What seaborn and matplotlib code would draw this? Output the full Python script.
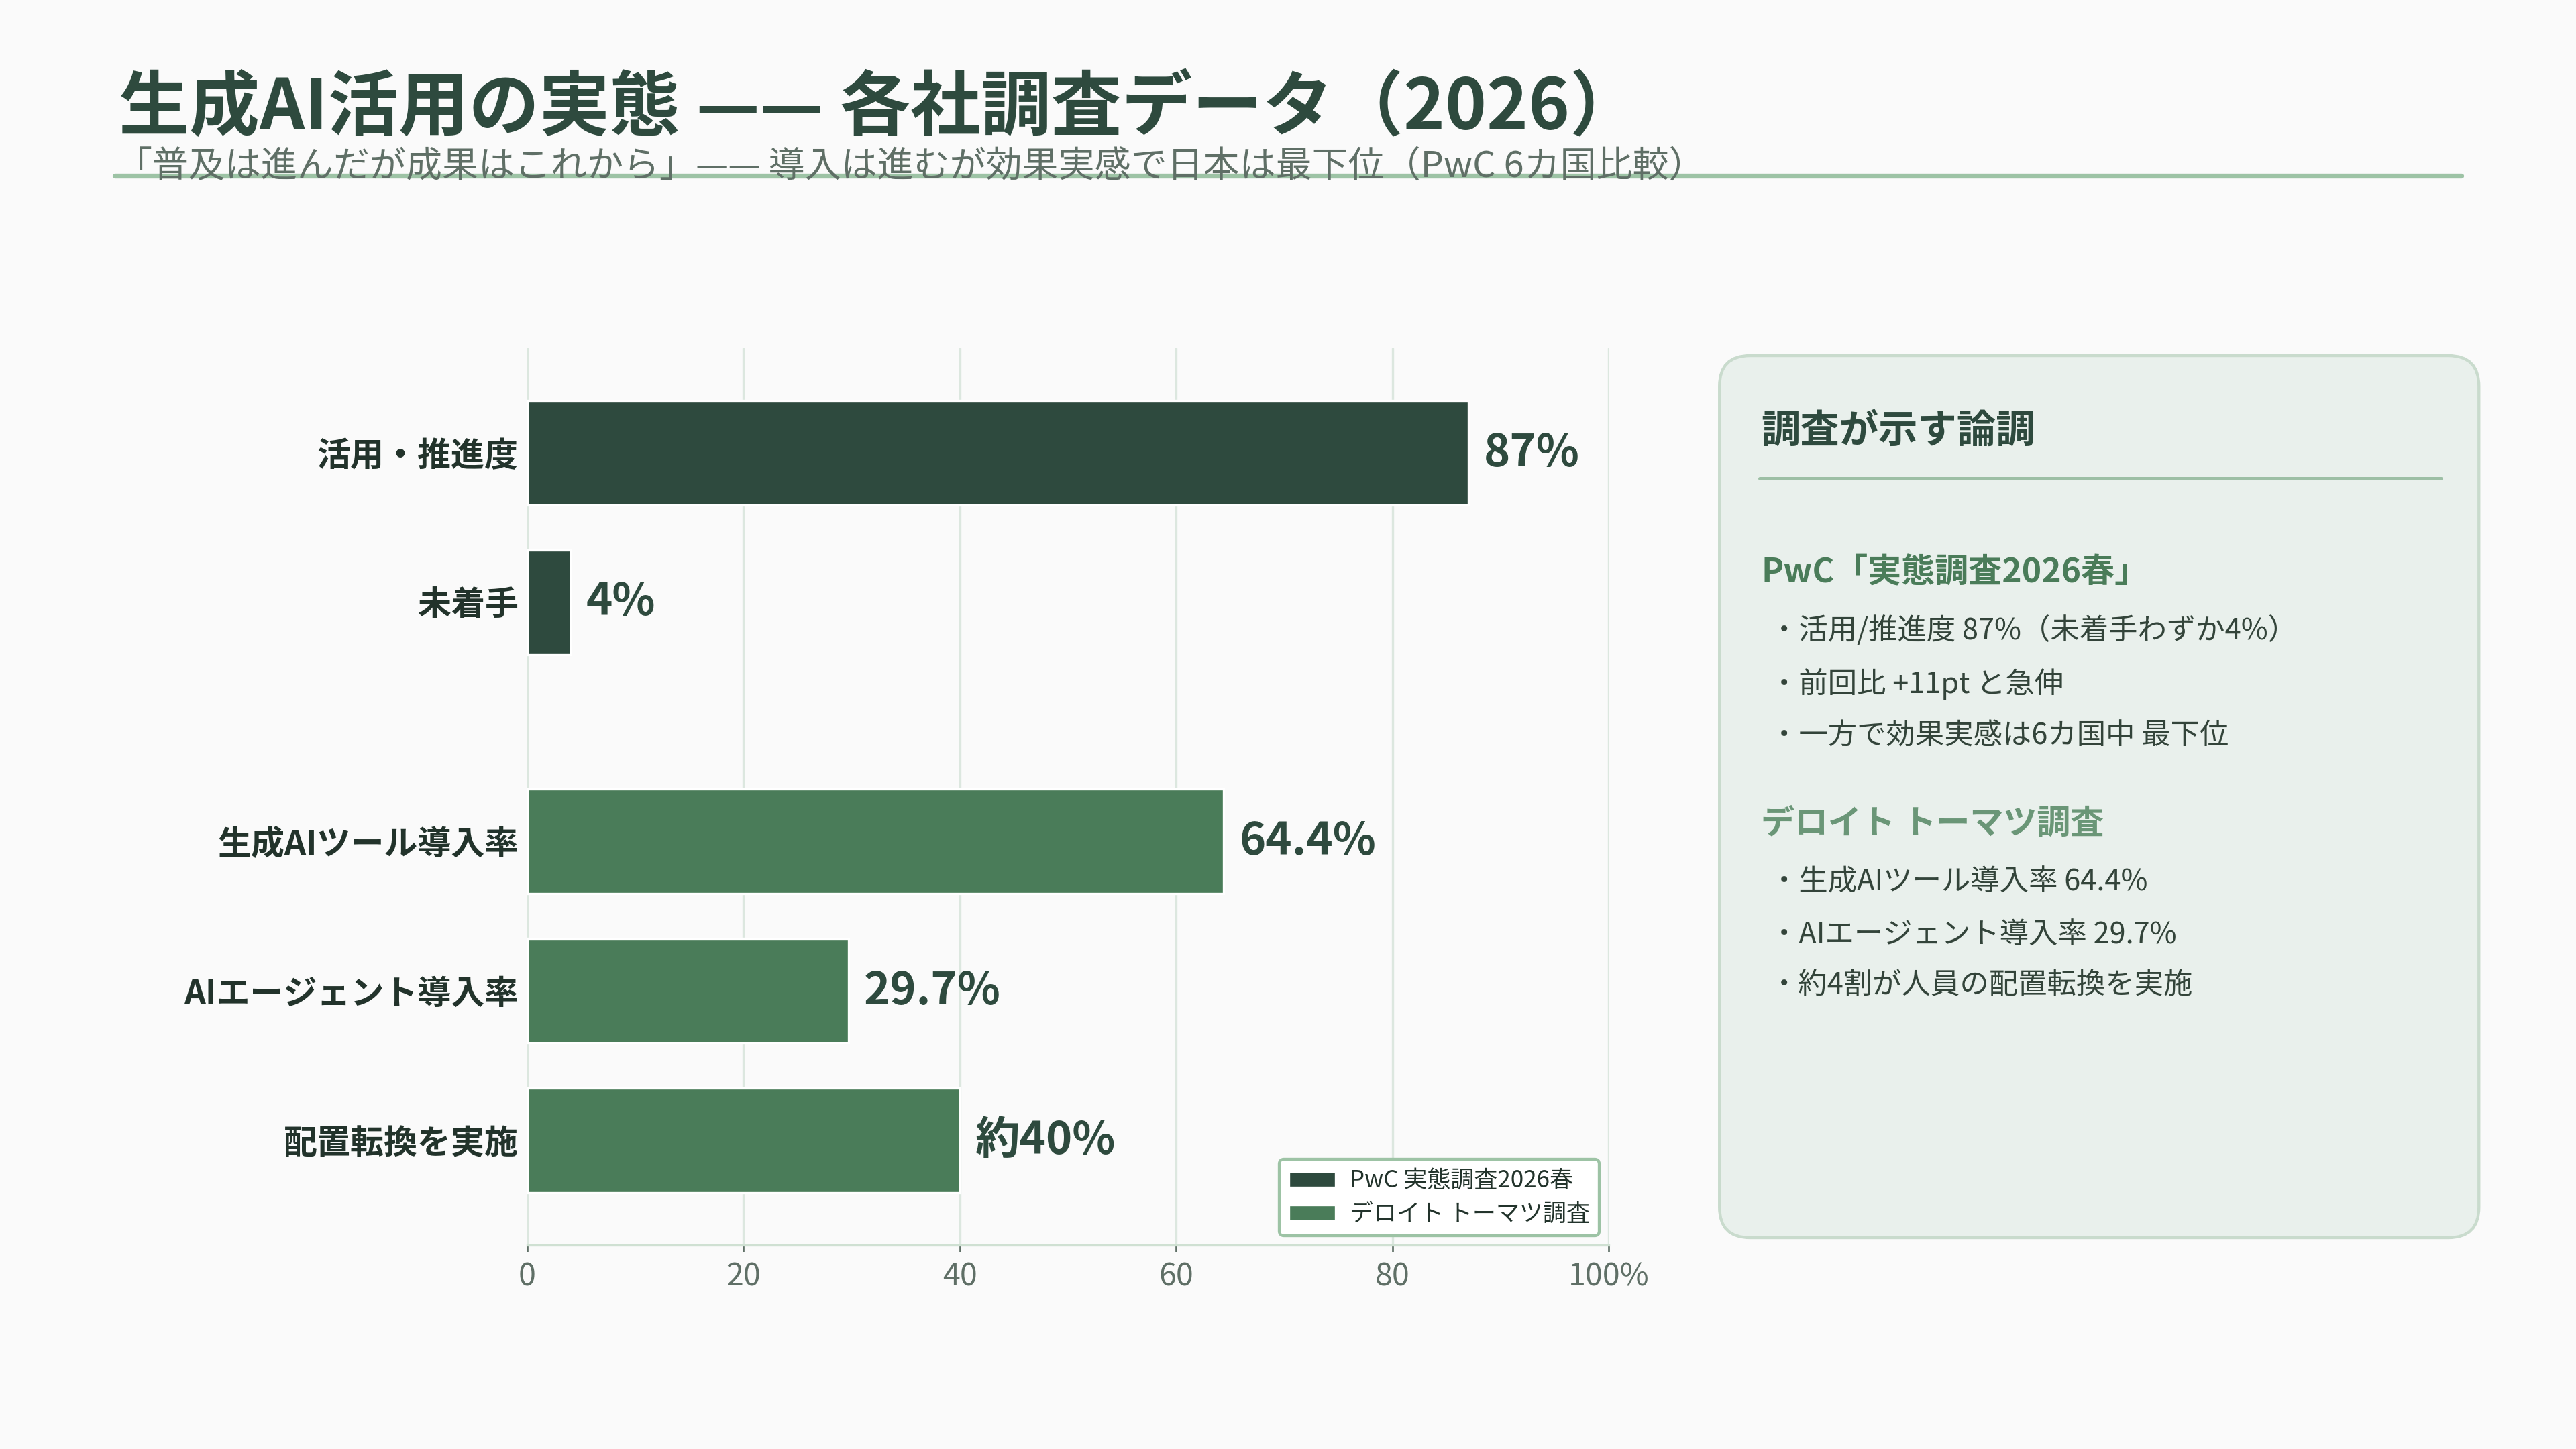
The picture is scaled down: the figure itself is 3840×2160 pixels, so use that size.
import matplotlib.pyplot as plt
import pandas as pd
import seaborn as sns
from matplotlib.lines import Line2D
from matplotlib.patches import FancyBboxPatch


# -------------------------------------------------
# Data
# -------------------------------------------------

categories = [
    "活用・推進度",
    "未着手",
    "生成AIツール導入率",
    "AIエージェント導入率",
    "配置転換を実施"
]

values = [87, 4, 64.4, 29.7, 40]

value_labels = ["87%", "4%", "64.4%", "29.7%", "約40%"]

sources = [
    "PwC 実態調査2026春",
    "PwC 実態調査2026春",
    "デロイト トーマツ調査",
    "デロイト トーマツ調査",
    "デロイト トーマツ調査"
]

source_order = ["PwC 実態調査2026春", "デロイト トーマツ調査"]

x_ticks = [0, 20, 40, 60, 80, 100]
x_tick_labels = ["0", "20", "40", "60", "80", "100%"]

pwc_points = [
    "・活用/推進度 87%（未着手わずか4%）",
    "・前回比 +11pt と急伸",
    "・一方で効果実感は6カ国中 最下位"
]

deloitte_points = [
    "・生成AIツール導入率 64.4%",
    "・AIエージェント導入率 29.7%",
    "・約4割が人員の配置転換を実施"
]


# -------------------------------------------------
# Style
# -------------------------------------------------

DARK = "#2E4A3E"
MID = "#4A7C59"
LIGHT_HEAD = "#6A9677"
GREY = "#5F6F66"
BACKGROUND = "#FAFAFA"

palette = {
    source_order[0]: DARK,
    source_order[1]: MID
}

sns.set_theme(style="white")

plt.rcParams["font.family"] = ["Noto Sans CJK JP", "DejaVu Sans"]


# -------------------------------------------------
# Bars (small gap between the two surveys)
# -------------------------------------------------

group_gap = 0.6

positions = []
for i, source in enumerate(sources):
    positions.append(i + group_gap * source_order.index(source))

df = pd.DataFrame({
    "category": categories,
    "value": values,
    "source": sources,
    "pos": positions
})

fig = plt.figure(figsize=(16, 9), facecolor=BACKGROUND)

ax = fig.add_axes([0.2047, 0.1407, 0.4198, 0.619])
ax.set_facecolor(BACKGROUND)

sns.barplot(
    data=df,
    x="value",
    y="pos",
    hue="source",
    hue_order=source_order,
    palette=palette,
    orient="y",
    native_scale=True,
    dodge=False,
    width=0.7,
    saturation=1,
    ax=ax
)

ax.set_xlim(0, 100)
ax.set_ylim(positions[-1] + 0.7, -0.7)

ax.set_xticks(x_ticks, x_tick_labels)
ax.set_yticks(positions, categories)

ax.set_xlabel("")
ax.set_ylabel("")

ax.grid(axis="x", color="#DCE7DF", linewidth=1.0)
ax.set_axisbelow(True)

for side in ["top", "right", "left"]:
    ax.spines[side].set_visible(False)

ax.spines["bottom"].set_color("#CFE0D2")
ax.spines["bottom"].set_linewidth(1.0)

ax.tick_params(
    axis="x",
    bottom=True,
    length=3,
    width=0.8,
    color=GREY,
    labelsize=14,
    labelcolor=GREY,
    pad=4
)

ax.tick_params(axis="y", left=False, length=0, pad=4)

for label in ax.get_yticklabels():
    label.set_fontsize(15)
    label.set_fontweight("bold")
    label.set_color("#22332B")

# value labels
for pos, value, text in zip(positions, values, value_labels):
    ax.annotate(
        text,
        xy=(value, pos),
        xytext=(7, 0),
        textcoords="offset points",
        ha="left",
        va="center",
        fontsize=20,
        fontweight="bold",
        color=DARK
    )

legend = ax.legend(
    loc="lower right",
    fontsize=10.5,
    frameon=True,
    fancybox=True,
    borderaxespad=0.4,
    borderpad=0.4,
    handlelength=2.0,
    handleheight=0.7,
    handletextpad=0.6,
    labelspacing=0.4
)
legend.get_frame().set_edgecolor("#9DC3A5")
legend.get_frame().set_linewidth(1.3)
legend.get_frame().set_facecolor("white")
legend.get_frame().set_alpha(1)
for text in legend.get_texts():
    text.set_color("#22332B")


# -------------------------------------------------
# Title block
# -------------------------------------------------

fig.text(
    0.046, 0.925,
    "生成AI活用の実態 —— 各社調査データ（2026）",
    fontsize=31.5,
    fontweight="bold",
    color=DARK,
    ha="left",
    va="center"
)

fig.add_artist(Line2D(
    [0.0446, 0.9554], [0.8787, 0.8787],
    transform=fig.transFigure,
    color="#9DC3A5",
    linewidth=2.2,
    zorder=1
))

fig.text(
    0.045, 0.885,
    "「普及は進んだが成果はこれから」—— 導入は進むが効果実感で日本は最下位（PwC 6カ国比較）",
    fontsize=16.2,
    color=GREY,
    ha="left",
    va="center",
    zorder=2
)


# -------------------------------------------------
# Side panel
# -------------------------------------------------

panel = FancyBboxPatch(
    (10.68, 1.3125), 4.717, 5.479,
    boxstyle="round,pad=0,rounding_size=0.19",
    transform=fig.dpi_scale_trans,
    facecolor="#E9F0EC",
    edgecolor="#C9DBCD",
    linewidth=1.3
)
fig.add_artist(panel)

fig.text(
    0.6837, 0.7025,
    "調査が示す論調",
    fontsize=17.5,
    fontweight="bold",
    color=DARK,
    ha="left",
    va="center"
)

fig.add_artist(Line2D(
    [0.683, 0.9477], [0.670, 0.670],
    transform=fig.transFigure,
    color="#9DBFA5",
    linewidth=1.5
))

fig.text(
    0.6837, 0.6045,
    "PwC「実態調査2026春」",
    fontsize=15,
    fontweight="bold",
    color=MID,
    ha="left",
    va="center"
)

for y, line in zip([0.5645, 0.5282, 0.4919], pwc_points):
    fig.text(
        0.687, y, line,
        fontsize=13,
        color="#33443A",
        ha="left",
        va="center"
    )

fig.text(
    0.6837, 0.4315,
    "デロイト トーマツ調査",
    fontsize=15,
    fontweight="bold",
    color=LIGHT_HEAD,
    ha="left",
    va="center"
)

for y, line in zip([0.3910, 0.3547, 0.3196], deloitte_points):
    fig.text(
        0.687, y, line,
        fontsize=13,
        color="#33443A",
        ha="left",
        va="center"
    )


plt.savefig("out.png", dpi=240, facecolor=BACKGROUND)
plt.close()
